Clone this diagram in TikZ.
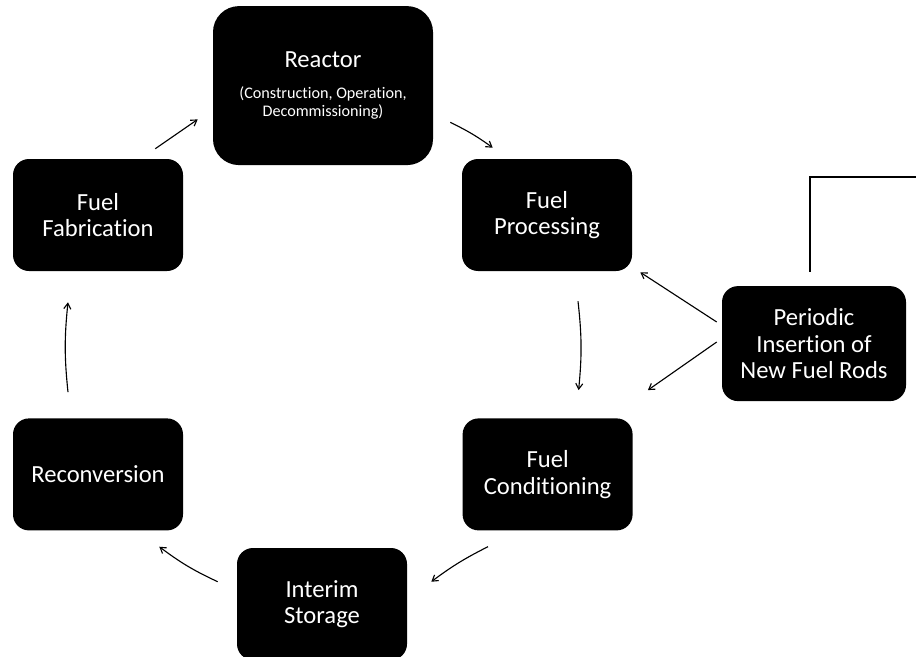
\documentclass[tikz,border=0pt]{standalone}
\usepackage{fontspec}
\setmainfont{Carlito}[Ligatures={NoCommon}]
\usetikzlibrary{arrows.meta,positioning}

\begin{document}
\begin{tikzpicture}[
    box/.style={fill=black, text=white, rounded corners=0.4cm, minimum width=4.25cm, minimum height=2.8cm,
                font=\fontsize{17.5}{19}\selectfont, align=center, inner sep=2pt},
    flow/.style={-{Straight Barb[length=4pt,width=5pt]}, line width=0.8pt},
]
\useasboundingbox (0,0) rectangle (22.9,-16.4);

\node[box, minimum width=5.5cm, minimum height=3.975cm, rounded corners=0.65cm] (reac) at (8.075,-2.14)
    {Reactor\\[2.5pt] {\fontsize{11.5}{13}\selectfont (Construction, Operation,}\\[-6.2pt]
     {\fontsize{11.5}{13}\selectfont Decommissioning)}};
\node[box] (proc) at (13.675,-5.375) {Fuel\\ Processing};
\node[box] (cond) at (13.69,-11.86) {Fuel\\ Conditioning};
\node[box] (stor) at (8.05,-15.1) {Interim\\ Storage};
\node[box] (recon) at (2.45,-11.86) {Reconversion};
\node[box] (fab) at (2.45,-5.375) {Fuel\\ Fabrication};
\node[box, minimum width=4.6cm, minimum height=2.875cm] (ins) at (20.35,-8.59) {Periodic\\ Insertion of\\ New Fuel Rods};

% cycle
\draw[flow] ([shift={(-0.7,0.25)}]fab.north east) -- ([shift={(-0.375,1.15)}]reac.south west);
\draw[flow] ([shift={(0.425,1.075)}]reac.south east) to[bend left=5] ([shift={(0.775,0.275)}]proc.north west);
\draw[flow] ([shift={(0.775,-0.75)}]proc.south) to[bend left=6] ([shift={(0.775,0.7)}]cond.north);
\draw[flow] ([shift={(-1.49,-0.4)}]cond.south) to[bend right=5] ([shift={(0.6,-0.85)}]stor.north east);
\draw[flow] ([shift={(-0.475,-0.85)}]stor.north west) to[bend left=6] ([shift={(-0.6,-0.4)}]recon.south east);
\draw[flow] ([shift={(-0.75,0.65)}]recon.north) to[bend left=6] ([shift={(-0.75,-0.775)}]fab.south);

% new rods
\draw[flow] ([shift={(-0.125,0.54)}]ins.west) -- ([shift={(0.2,-0.025)}]proc.south east);
\draw[flow] ([shift={(-0.125,0.04)}]ins.west) -- ([shift={(0.375,0.7)}]cond.north east);

\coordinate (edge) at (23.0,-4.425);
\draw[line width=0.8pt] ([shift={(-0.1,0.35)}]ins.north) |- (edge);
\end{tikzpicture}
\end{document}
